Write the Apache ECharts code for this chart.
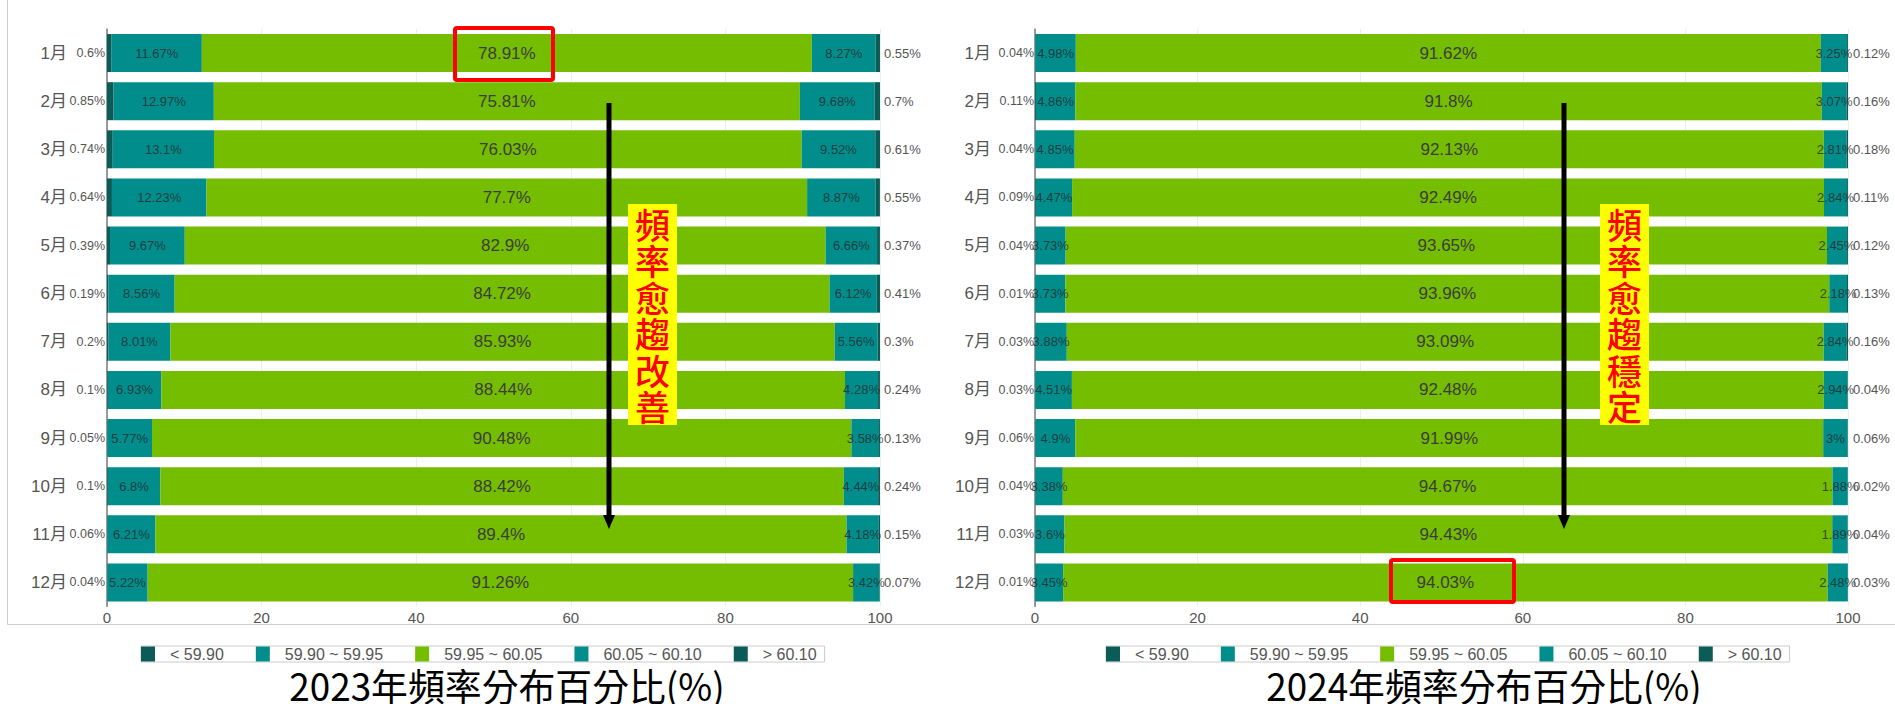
<!DOCTYPE html>
<html>
<head>
<meta charset="utf-8">
<script src="https://cdn.jsdelivr.net/npm/echarts@6/dist/echarts.min.js"></script>
<style>
  html, body { margin: 0; padding: 0; background: #ffffff; }
  #chart { width: 1895px; height: 704px; }
</style>
</head>
<body>
<div id="chart"></div>
<script>
// Months (y categories) and frequency-band names
const months = ['1月', '2月', '3月', '4月', '5月', '6月', '7月', '8月', '9月', '10月', '11月', '12月'];
const bandNames = ['< 59.90', '59.90 ~ 59.95', '59.95 ~ 60.05', '60.05 ~ 60.10', '> 60.10'];
const xTicks = [0, 20, 40, 60, 80, 100];

// 2023 share of time in each frequency band (%)
const y2023_lt5990 = [0.6, 0.85, 0.74, 0.64, 0.39, 0.19, 0.2, 0.1, 0.05, 0.1, 0.06, 0.04];
const y2023_5990_5995 = [11.67, 12.97, 13.1, 12.23, 9.67, 8.56, 8.01, 6.93, 5.77, 6.8, 6.21, 5.22];
const y2023_5995_6005 = [78.91, 75.81, 76.03, 77.7, 82.9, 84.72, 85.93, 88.44, 90.48, 88.42, 89.4, 91.26];
const y2023_6005_6010 = [8.27, 9.68, 9.52, 8.87, 6.66, 6.12, 5.56, 4.28, 3.58, 4.44, 4.18, 3.42];
const y2023_gt6010 = [0.55, 0.7, 0.61, 0.55, 0.37, 0.41, 0.3, 0.24, 0.13, 0.24, 0.15, 0.07];

// 2024 share of time in each frequency band (%)
const y2024_lt5990 = [0.04, 0.11, 0.04, 0.09, 0.04, 0.01, 0.03, 0.03, 0.06, 0.04, 0.03, 0.01];
const y2024_5990_5995 = [4.98, 4.86, 4.85, 4.47, 3.73, 3.73, 3.88, 4.51, 4.9, 3.38, 3.6, 3.45];
const y2024_5995_6005 = [91.62, 91.8, 92.13, 92.49, 93.65, 93.96, 93.09, 92.48, 91.99, 94.67, 94.43, 94.03];
const y2024_6005_6010 = [3.25, 3.07, 2.81, 2.84, 2.45, 2.18, 2.84, 2.94, 3, 1.88, 1.89, 2.48];
const y2024_gt6010 = [0.12, 0.16, 0.18, 0.11, 0.12, 0.13, 0.16, 0.04, 0.06, 0.02, 0.04, 0.03];

const titles = ['2023年頻率分布百分比(%)', '2024年頻率分布百分比(%)'];
const notes = ['頻率愈趨改善', '頻率愈趨穩定'];

const FONT = "'Liberation Sans', Arial, 'Noto Sans CJK TC', sans-serif";
const CJK = "'Noto Sans CJK TC', 'Noto Sans CJK SC', sans-serif";
const colors = ['#0b5b57', '#008d8c', '#74bd00', '#008d8c', '#0b5b57'];

const fmt = p => p.value + '%';

function buildSeries(gridIdx, sets, sideDistance) {
  const labelCfg = [
    { show: true, position: 'left', distance: sideDistance[0], fontSize: 12.5, color: '#555' },
    { show: true, position: 'inside', fontSize: 13, color: 'rgba(40,40,40,0.8)' },
    { show: true, position: 'inside', fontSize: 17, color: '#3c3c3c' },
    { show: true, position: 'inside', fontSize: 13, color: 'rgba(40,40,40,0.8)' },
    { show: true, position: 'right', distance: sideDistance[1], fontSize: 13, color: '#555' }
  ];
  return sets.map((data, i) => ({
    name: bandNames[i],
    type: 'bar',
    stack: 'total' + gridIdx,
    xAxisIndex: gridIdx,
    yAxisIndex: gridIdx,
    barWidth: 38,
    data: data,
    itemStyle: { color: colors[i] },
    label: Object.assign({ formatter: fmt, fontFamily: FONT }, labelCfg[i]),
    labelLayout: { hideOverlap: false },
    emphasis: { disabled: true },
    animation: false
  }));
}

const grids = [
  { left: 107, right: 1015, top: 29, bottom: 97.5 },
  { left: 1035, right: 47, top: 29, bottom: 97.5 }
];

function xAxis(gridIndex) {
  return {
    type: 'value', gridIndex, min: xTicks[0], max: xTicks[xTicks.length - 1], interval: xTicks[1] - xTicks[0],
    axisLine: { show: false }, axisTick: { show: false },
    axisLabel: { color: '#555', fontSize: 15, fontFamily: FONT, margin: 3 },
    splitLine: { show: true, lineStyle: { color: '#eeeeee', width: 1 } }
  };
}

function yAxis(gridIndex, margin) {
  return {
    type: 'category', gridIndex, inverse: true, data: months,
    axisTick: { show: false },
    axisLine: { show: true, lineStyle: { color: '#7a7a7a', width: 1.5 } },
    axisLabel: { color: '#555', fontSize: 17, fontFamily: FONT, margin: margin }
  };
}

function legend(left) {
  return {
    left: left, top: 646, orient: 'horizontal',
    icon: 'rect', itemWidth: 14, itemHeight: 15, itemGap: 32,
    padding: [0, 8, 0, 0],
    borderColor: '#cccccc', borderWidth: 1,
    data: bandNames,
    selectedMode: false,
    textStyle: { color: '#555', fontSize: 16, fontFamily: FONT, padding: [0, 0, 0, 10] }
  };
}

// vertical arrow plus a yellow note with one character per line
function annotation(arrowX, boxX, text) {
  const items = [
    { type: 'line', shape: { x1: arrowX, y1: 103, x2: arrowX, y2: 518 }, style: { stroke: '#000', lineWidth: 5 }, z: 50 },
    { type: 'polygon', shape: { points: [[arrowX - 6, 515], [arrowX + 6, 515], [arrowX, 529]] }, style: { fill: '#000' }, z: 50 },
    { type: 'rect', shape: { x: boxX, y: 204, width: 49, height: 221 }, style: { fill: '#ffff00' }, z: 50 }
  ];
  text.split('').forEach((ch, k) => {
    items.push({
      type: 'text', x: boxX + 24.5, y: 223 + k * 36.5, z: 51,
      style: { text: ch, fill: '#ff0000', font: '500 35px ' + CJK, align: 'center', verticalAlign: 'middle' }
    });
  });
  return items;
}

const chart = echarts.init(document.getElementById('chart'), null, { renderer: 'svg' });

chart.setOption({
  backgroundColor: '#ffffff',
  animation: false,
  grid: grids,
  xAxis: [xAxis(0), xAxis(1)],
  yAxis: [yAxis(0, 40), yAxis(1, 44)],
  legend: [legend(141), legend(1106)],
  series: [].concat(
    buildSeries(0, [y2023_lt5990, y2023_5990_5995, y2023_5995_6005, y2023_6005_6010, y2023_gt6010], [2, 4]),
    buildSeries(1, [y2024_lt5990, y2024_5990_5995, y2024_5995_6005, y2024_6005_6010, y2024_gt6010], [1, 5])
  ),
  graphic: [
    // frame lines around the first panel
    { type: 'line', shape: { x1: 7.5, y1: 0, x2: 7.5, y2: 624.5 }, style: { stroke: '#cccccc', lineWidth: 1 } },
    { type: 'line', shape: { x1: 7.5, y1: 624.5, x2: 1895, y2: 624.5 }, style: { stroke: '#cccccc', lineWidth: 1 } },
    // panel titles
    { type: 'text', x: 507, y: 685, scaleX: 0.97, style: { text: titles[0], fill: '#000', font: '38px ' + CJK, align: 'center', verticalAlign: 'middle' } },
    { type: 'text', x: 1484, y: 685, scaleX: 0.97, style: { text: titles[1], fill: '#000', font: '38px ' + CJK, align: 'center', verticalAlign: 'middle' } },
    // highlight boxes
    { type: 'rect', shape: { x: 455, y: 28, width: 98, height: 52, r: 2 }, style: { fill: 'none', stroke: '#ff0000', lineWidth: 4 }, z: 50 },
    { type: 'rect', shape: { x: 1391, y: 560, width: 123, height: 42, r: 2 }, style: { fill: 'none', stroke: '#ff0000', lineWidth: 4 }, z: 50 }
  ].concat(annotation(609, 628, notes[0]), annotation(1564, 1600, notes[1]))
});
</script>
</body>
</html>
